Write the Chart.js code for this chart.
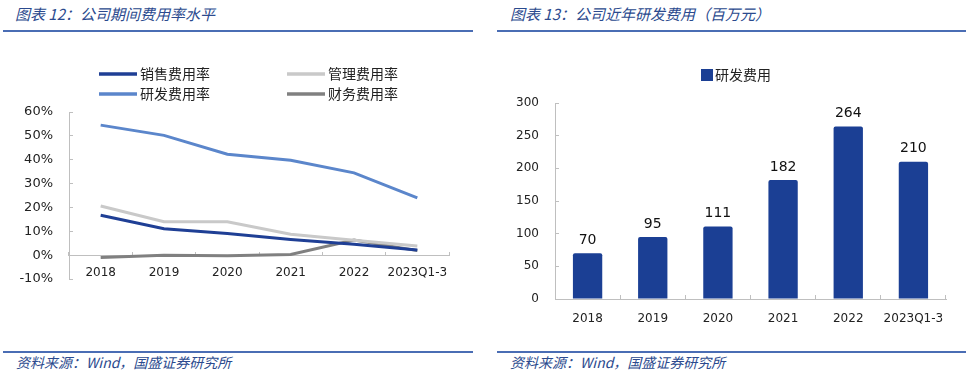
<!DOCTYPE html>
<html>
<head>
<meta charset="utf-8">
<script src="https://cdn.jsdelivr.net/npm/chart.js@4.4.0/dist/chart.umd.min.js"></script>
<style>
  body { margin: 0; width: 972px; height: 376px; background: #fff; position: relative; overflow: hidden;
         font-family: "Noto Sans CJK SC", sans-serif; }
  .title, .src { position: absolute; font-style: italic; color: #2b4a8e; white-space: nowrap; }
  .title { top: 5px; font-size: 15px; line-height: 18px; }
  .src { top: 353px; font-size: 14px; line-height: 18px; }
  .rule { position: absolute; height: 2px; background: #4a6db4; }
  canvas { position: absolute; }
</style>
</head>
<body>
<div class="title" style="left:15px">图表 12：公司期间费用率水平</div>
<div class="title" style="left:510px">图表 13：公司近年研发费用（百万元）</div>
<div class="rule" style="left:3px;width:470px;top:30px"></div>
<div class="rule" style="left:497px;width:469px;top:30px"></div>
<div class="rule" style="left:3px;width:470px;top:351px"></div>
<div class="rule" style="left:497px;width:469px;top:351px"></div>
<div class="src" style="left:16px">资料来源：Wind，国盛证券研究所</div>
<div class="src" style="left:510px">资料来源：Wind，国盛证券研究所</div>

<div style="position:absolute;left:0;top:40px;width:480px;height:300px"><canvas id="rates"></canvas></div>
<div style="position:absolute;left:486px;top:40px;width:486px;height:300px"><canvas id="rd"></canvas></div>

<script>
// expense ratios (%)
const years = ["2018", "2019", "2020", "2021", "2022", "2023Q1-3"];
const salesRate = [16.7, 11.1, 9.1, 6.6, 4.6, 2.2];
const adminRate = [20.6, 14.0, 14.0, 8.8, 6.2, 3.8];
const rdRate = [54.5, 50.2, 42.3, 39.8, 34.5, 24.0];
const finRate = [-1.0, 0.0, -0.3, 0.3, 6.3, 1.9];
// R&D spend (million yuan)
const rdSpend = [70, 95, 111, 182, 264, 210];

const AXIS = "#bfbfbf";
const TICK_FONT = "DejaVu Sans";
const CJK = "Noto Sans CJK SC";

// two-column legend drawn on the canvas, like the original
const lineLegend = {
  id: "lineLegend",
  afterDraw(chart) {
    const c = chart.ctx;
    chart.data.datasets.forEach((ds, i) => {
      const x = 99 + (i % 2) * 188;
      const y = 34 + Math.floor(i / 2) * 20;
      c.save();
      c.strokeStyle = ds.borderColor;
      c.lineWidth = 3.5;
      c.beginPath(); c.moveTo(x, y); c.lineTo(x + 38, y); c.stroke();
      c.fillStyle = "#222";
      c.font = `14px "${CJK}"`;
      c.textBaseline = "middle";
      c.fillText(ds.label, x + 41, y);
      c.restore();
    });
  },
};

const barExtras = {
  id: "barExtras",
  afterDatasetsDraw(chart) {
    const c = chart.ctx;
    const ds = chart.data.datasets[0];
    c.save();
    c.fillStyle = "#111";
    c.font = `14px "${TICK_FONT}"`;
    c.textAlign = "center";
    c.textBaseline = "bottom";
    chart.getDatasetMeta(0).data.forEach((bar, i) => c.fillText(ds.data[i], bar.x, bar.y - 6));
    // legend
    c.fillStyle = ds.backgroundColor;
    c.fillRect(215, 29, 12, 12);
    c.fillStyle = "#222";
    c.font = `14px "${CJK}"`;
    c.textAlign = "left";
    c.textBaseline = "middle";
    c.fillText(ds.label, 229, 35);
    c.restore();
  },
};

new Chart(document.getElementById("rates"), {
  type: "line",
  data: {
    labels: years,
    datasets: [
      { label: "销售费用率", data: salesRate, borderColor: "#1f3f95" },
      { label: "管理费用率", data: adminRate, borderColor: "#c9c9c9" },
      { label: "研发费用率", data: rdRate, borderColor: "#5b86cb" },
      { label: "财务费用率", data: finRate, borderColor: "#808080" },
    ].map((d) => ({ ...d, borderWidth: 3, pointRadius: 0, tension: 0, fill: false })),
  },
  options: {
    responsive: true,
    maintainAspectRatio: false,
    animation: false,
    layout: { padding: { top: 72, right: 31, bottom: 61, left: 0 } },
    plugins: { legend: { display: false }, tooltip: { enabled: false } },
    scales: {
      x: {
        position: { y: 0 },
        offset: true,
        afterFit: (s) => { s.height = 0; },
        grid: { offset: true, drawOnChartArea: false, tickLength: -4, color: AXIS },
        border: { color: AXIS },
        ticks: { color: "#222", font: { family: TICK_FONT, size: 12 }, padding: 15, maxRotation: 0 },
      },
      y: {
        min: -10, max: 60,
        afterFit: (s) => { s.width = 69; },
        grid: { drawOnChartArea: false, tickLength: -4, color: AXIS },
        border: { color: AXIS },
        ticks: { stepSize: 10, color: "#222", font: { family: TICK_FONT, size: 13 }, padding: 20,
                 callback: (v) => v + "%" },
      },
    },
  },
  plugins: [lineLegend],
});

new Chart(document.getElementById("rd"), {
  type: "bar",
  data: {
    labels: years,
    datasets: [{
      label: "研发费用",
      data: rdSpend,
      backgroundColor: "#1b3f94",
      borderRadius: 2,
      categoryPercentage: 1,
      barPercentage: 0.45,
    }],
  },
  options: {
    responsive: true,
    maintainAspectRatio: false,
    animation: false,
    layout: { padding: { top: 63, right: 26, bottom: 0, left: 0 } },
    plugins: { legend: { display: false }, tooltip: { enabled: false } },
    scales: {
      x: {
        afterFit: (s) => { s.height = 41; },
        grid: { offset: true, drawOnChartArea: false, tickLength: -4, color: AXIS },
        border: { color: AXIS },
        ticks: { color: "#222", font: { family: TICK_FONT, size: 12 }, padding: 17, maxRotation: 0 },
      },
      y: {
        min: 0, max: 300,
        afterFit: (s) => { s.width = 69; },
        grid: { drawOnChartArea: false, tickLength: -4, color: AXIS },
        border: { color: AXIS },
        ticks: { stepSize: 50, color: "#222", font: { family: TICK_FONT, size: 12 }, padding: 20 },
      },
    },
  },
  plugins: [barExtras],
});
</script>
</body>
</html>
